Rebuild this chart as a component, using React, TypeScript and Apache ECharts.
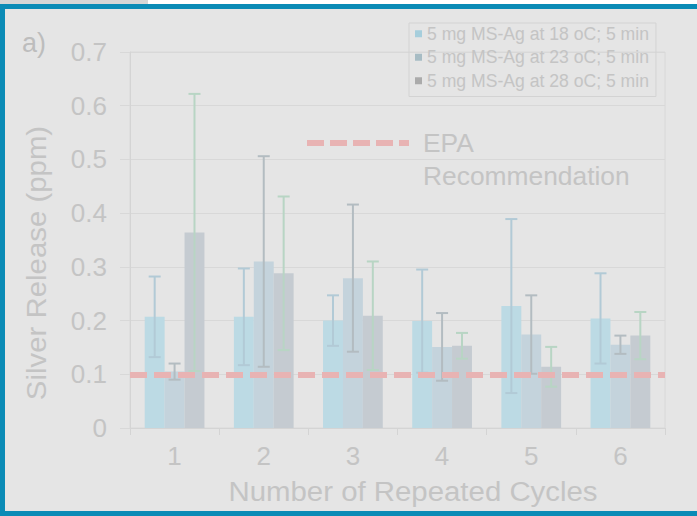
import React, { useEffect, useRef } from 'react';
import * as echarts from 'echarts';

// Repeated-cycle silver release, mean and standard deviation per temperature
const cycles = ['1', '2', '3', '4', '5', '6'];
const seriesNames = [
  '5 mg MS-Ag at 18 oC; 5 min',
  '5 mg MS-Ag at 23 oC; 5 min',
  '5 mg MS-Ag at 28 oC; 5 min',
];
const release18 = [0.207, 0.207, 0.2, 0.199, 0.227, 0.204];
const sd18 = [0.075, 0.09, 0.047, 0.096, 0.162, 0.084];
const release23 = [0.105, 0.31, 0.279, 0.151, 0.174, 0.155];
const sd23 = [0.015, 0.196, 0.137, 0.063, 0.073, 0.017];
const release28 = [0.364, 0.288, 0.209, 0.153, 0.114, 0.172];
const sd28 = [0.258, 0.143, 0.101, 0.024, 0.037, 0.044];
const epaLimit = 0.1;

const FONT = '"Liberation Sans", Arial, sans-serif';
const TEXT = '#c4c4c4';

export default function App() {
  const ref = useRef<HTMLDivElement>(null);

  useEffect(() => {
    const chart = echarts.init(ref.current!, null, { renderer: 'svg' });
    const means = [release18, release23, release28];
    const sds = [sd18, sd23, sd28];
    const barColors = ['#bcdae4', '#c4d3dc', '#c5cbd1'];
    const legendColors = ['#a6cedc', '#a7bcc4', '#ababab'];
    const errColors = ['#b2cad6', '#b3bcc1', '#b8d5c4'];
    const gapRatio = 0.33;

    const barSeries = means.map((m, i) => ({
      type: 'bar',
      name: seriesNames[i],
      data: m,
      barGap: '0%',
      barCategoryGap: '33%',
      itemStyle: { color: barColors[i] },
      z: 2,
    }));

    const errSeries = means.map((m, i) => ({
      type: 'custom',
      name: 'sd-' + i,
      data: m.map((v, k) => [k, v - sds[i][k], v + sds[i][k]]),
      encode: { x: 0, y: [1, 2] },
      z: 3,
      renderItem: (_params: any, api: any) => {
        const cat = api.value(0);
        const lo = api.coord([cat, api.value(1)]);
        const hi = api.coord([cat, api.value(2)]);
        const bandW = api.size([1, 0])[0];
        const barW = (bandW * (1 - gapRatio)) / 3;
        const x = lo[0] + (i - 1) * barW;
        const half = 6;
        const style = { stroke: errColors[i], lineWidth: 2 };
        return {
          type: 'group',
          children: [
            { type: 'line', shape: { x1: x, y1: hi[1], x2: x, y2: lo[1] }, style },
            { type: 'line', shape: { x1: x - half, y1: hi[1], x2: x + half, y2: hi[1] }, style },
            { type: 'line', shape: { x1: x - half, y1: lo[1], x2: x + half, y2: lo[1] }, style },
          ],
        };
      },
    }));

    const epaSeries = {
      type: 'line',
      name: 'EPA',
      data: [],
      z: 5,
      markLine: {
        silent: true,
        symbol: 'none',
        label: { show: false },
        lineStyle: { color: '#e8b3b3', width: 6, type: [17, 7] },
        data: [{ yAxis: epaLimit }],
      },
    };

    chart.setOption({
      animation: false,
      backgroundColor: 'transparent',
      textStyle: { fontFamily: FONT },
      grid: {
        left: 130,
        right: 32,
        top: 52,
        bottom: 88,
        show: true,
        borderColor: '#d8d8d8',
        borderWidth: 1,
      },
      legend: {
        data: seriesNames.map((n, i) => ({ name: n, itemStyle: { color: legendColors[i] } })),
        orient: 'vertical',
        left: 409,
        top: 23,
        icon: 'rect',
        itemWidth: 7,
        itemHeight: 7,
        itemGap: 4,
        selectedMode: false,
        borderColor: '#d3d3d3',
        borderWidth: 1,
        padding: [1, 7, 6, 6],
        textStyle: { fontSize: 17.6, color: TEXT, fontFamily: FONT, lineHeight: 19.5 },
      },
      xAxis: {
        type: 'category',
        data: cycles,
        axisLine: { lineStyle: { color: '#d4d4d4', width: 1 } },
        axisTick: { show: true, length: 7, lineStyle: { color: '#d4d4d4' } },
        axisLabel: { fontSize: 26, color: TEXT, margin: 15, fontFamily: FONT },
        splitLine: { show: false },
      },
      yAxis: {
        type: 'value',
        min: 0,
        max: 0.7,
        interval: 0.1,
        axisLine: { show: true, lineStyle: { color: '#d4d4d4', width: 1 } },
        axisTick: { show: true, length: 10, lineStyle: { color: '#d8d8d8' } },
        splitLine: { show: true, lineStyle: { color: '#d8d8d8', width: 1 } },
        axisLabel: {
          fontSize: 26,
          color: TEXT,
          margin: 23,
          fontFamily: FONT,
          formatter: (v: number) => String(Math.round(v * 10) / 10),
        },
      },
      graphic: [
        {
          type: 'text',
          x: 22,
          y: 43,
          style: { text: 'a)', fontSize: 27, fill: '#bdbdbd', fontFamily: FONT, textVerticalAlign: 'middle' },
        },
        {
          type: 'text',
          x: 36,
          y: 263,
          rotation: Math.PI / 2,
          scaleX: 1.05,
          style: {
            text: 'Silver Release (ppm)',
            fontSize: 28,
            fill: TEXT,
            fontFamily: FONT,
            textAlign: 'center',
            textVerticalAlign: 'middle',
          },
        },
        {
          type: 'text',
          x: 413,
          y: 491,
          scaleX: 1.05,
          style: {
            text: 'Number of Repeated Cycles',
            fontSize: 28,
            fill: TEXT,
            fontFamily: FONT,
            textAlign: 'center',
            textVerticalAlign: 'middle',
          },
        },
        {
          type: 'line',
          shape: { x1: 307, y1: 143, x2: 409, y2: 143 },
          style: { stroke: '#e8b3b3', lineWidth: 6, lineDash: [17, 6] },
        },
        {
          type: 'text',
          x: 423,
          y: 143,
          scaleX: 1.055,
          style: { text: 'EPA', fontSize: 25, fill: TEXT, fontFamily: FONT, textVerticalAlign: 'middle' },
        },
        {
          type: 'text',
          x: 423,
          y: 176,
          scaleX: 1.055,
          style: { text: 'Recommendation', fontSize: 25, fill: TEXT, fontFamily: FONT, textVerticalAlign: 'middle' },
        },
      ],
      series: [...barSeries, ...errSeries, epaSeries],
    });

    return () => chart.dispose();
  }, []);

  return (
    <div style={{ position: 'fixed', left: 0, top: 0, width: 697, height: 516, background: '#ffffff' }}>
      <div style={{ position: 'absolute', left: 0, top: 0, width: 148, height: 4, background: '#d6d6d6' }} />
      <div
        style={{
          position: 'absolute',
          left: 0,
          top: 4,
          width: 697,
          height: 512,
          boxSizing: 'border-box',
          borderTop: '5px solid #0b8bb6',
          borderLeft: '5px solid #0b8bb6',
          borderBottom: '5px solid #0b8bb6',
          background: '#e5e5e5',
        }}
      />
      <div ref={ref} style={{ position: 'absolute', left: 0, top: 0, width: 697, height: 516 }} />
    </div>
  );
}
